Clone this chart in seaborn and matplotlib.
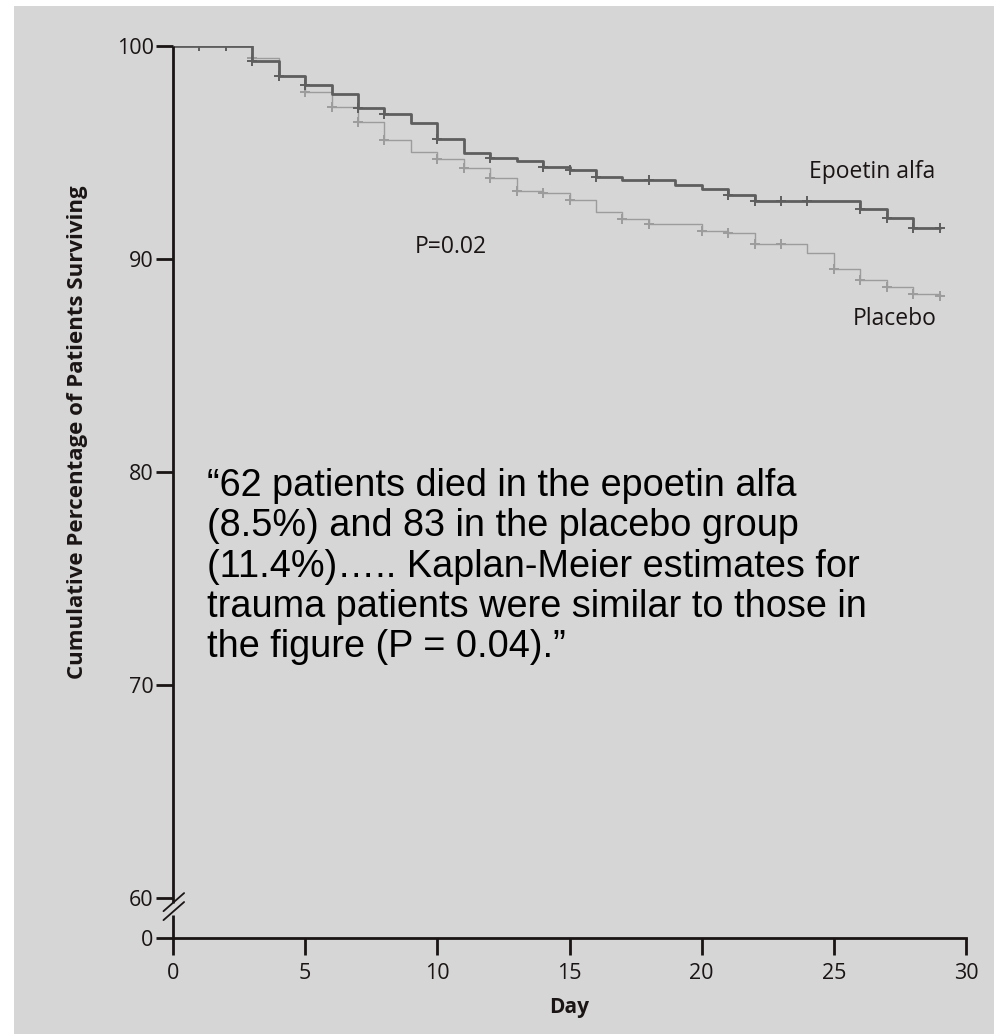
import numpy as np
import pandas as pd
import matplotlib
matplotlib.use("Agg")
import matplotlib.pyplot as plt
from matplotlib.patches import Rectangle
import seaborn as sns

# ---- data ----
days = list(range(0, 30))
epoetin = [100, 100, 100, 99.31, 98.58, 98.16, 97.74, 97.09, 96.79, 96.40,
           95.64, 94.97, 94.75, 94.59, 94.31, 94.18, 93.87, 93.71, 93.71, 93.49,
           93.28, 93.02, 92.74, 92.74, 92.74, 92.74, 92.34, 91.90, 91.45, 91.45]
placebo = [100, 100, 100, 99.45, 98.58, 97.85, 97.14, 96.43, 95.57, 95.03,
           94.67, 94.28, 93.79, 93.21, 93.08, 92.77, 92.19, 91.87, 91.63, 91.63,
           91.29, 91.20, 90.72, 90.72, 90.28, 89.51, 89.00, 88.68, 88.36, 88.25]
epoetin_censor_days = [1, 2, 3, 4, 5, 7, 8, 10, 12, 14, 15, 16, 18, 21, 22, 23, 24, 26, 27, 28, 29]
placebo_censor_days = [1, 2, 3, 4, 5, 6, 7, 8, 10, 11, 12, 13, 14, 15, 17, 18, 20, 21, 22, 23, 25, 26, 27, 28, 29]
x_ticks = [0, 5, 10, 15, 20, 25, 30]
y_ticks = [60, 70, 80, 90, 100]
y_break_bottom = 58.11  # position where the "0" of the broken axis sits

BG = "#d6d6d6"
EPO_C = "#5e5e5e"
PLA_C = "#9c9c9c"
INK = "#1a1414"

sns.set_theme(style="white")
plt.rcParams["font.family"] = ["Open Sans", "DejaVu Sans"]

fig = plt.figure(figsize=(9.94, 10.34), dpi=100)
fig.patch.set_facecolor("white")
fig.patches.append(Rectangle((14 / 994, 0), 1, 1 - 6 / 1034, transform=fig.transFigure,
                             facecolor=BG, edgecolor="none", zorder=-10))

ax = fig.add_axes([173 / 994, 1 - 938 / 1034, (966 - 173) / 994, (938 - 46) / 1034])
ax.set_facecolor("none")

df = pd.concat([
    pd.DataFrame({"Day": days, "Surv": epoetin, "Group": "Epoetin alfa"}),
    pd.DataFrame({"Day": days, "Surv": placebo, "Group": "Placebo"}),
])

sns.lineplot(data=df[df.Group == "Placebo"], x="Day", y="Surv", ax=ax,
             drawstyle="steps-post", color=PLA_C, lw=1.0, legend=False, zorder=2)
sns.lineplot(data=df[df.Group == "Epoetin alfa"], x="Day", y="Surv", ax=ax,
             drawstyle="steps-post", color=EPO_C, lw=2.0, legend=False, zorder=3)

epo_c = pd.DataFrame({"Day": epoetin_censor_days,
                      "Surv": [epoetin[d] for d in epoetin_censor_days]})
pla_c = pd.DataFrame({"Day": placebo_censor_days,
                      "Surv": [placebo[d] for d in placebo_censor_days]})
sns.scatterplot(data=pla_c, x="Day", y="Surv", ax=ax, marker="+", s=60,
                color=PLA_C, linewidth=1.4, zorder=2)
sns.scatterplot(data=epo_c, x="Day", y="Surv", ax=ax, marker="+", s=60,
                color=EPO_C, linewidth=1.4, zorder=3)

ax.set_xlim(0, 30)
ax.set_ylim(y_break_bottom, 100)
ax.set_xticks(x_ticks)
ax.set_xticklabels([str(t) for t in x_ticks])
ax.set_yticks([y_break_bottom] + y_ticks)
ax.set_yticklabels(["0"] + [str(t) for t in y_ticks])
ax.tick_params(axis="both", direction="out", length=12, width=2, color=INK,
               labelsize=15.5, labelcolor=INK, pad=2, left=True, bottom=True)
ax.tick_params(axis="x", pad=6)

for s in ["top", "right", "left"]:
    ax.spines[s].set_visible(False)
ax.spines["bottom"].set_color(INK)
ax.spines["bottom"].set_linewidth(2)

# left spine drawn in two pieces with a break
ax.plot([0, 0], [59.75, 100], color=INK, lw=2, clip_on=False, zorder=4,
        solid_capstyle="butt")
ax.plot([0, 0], [y_break_bottom, 59.2], color=INK, lw=2, clip_on=False, zorder=4,
        solid_capstyle="butt")
for off in (0.0, 0.42):
    ax.plot([-0.36, 0.42], [58.95 + off, 59.8 + off], color=INK, lw=1.3,
            clip_on=False, zorder=5)

ax.set_xlabel("Day", fontsize=15, fontweight="bold", color=INK, labelpad=9)
ax.set_ylabel("Cumulative Percentage of Patients Surviving", fontsize=16,
              fontweight="bold", color=INK)
ax.yaxis.set_label_coords(-0.107, 0.567)

ax.text(28.83, 94.06, "Epoetin alfa", ha="right", va="center", fontsize=16.5, color=INK)
ax.text(28.9, 86.89, "Placebo", ha="right", va="baseline", fontsize=16.5, color=INK)
ax.text(9.16, 90.57, "P=0.02", ha="left", va="center", fontsize=16.5, color=INK)

quote = ("\u201c62 patients died in the epoetin alfa\n"
         "(8.5%) and 83 in the placebo group\n"
         "(11.4%)\u2026.. Kaplan-Meier estimates for\n"
         "trauma patients were similar to those in\n"
         "the figure (P = 0.04).\u201d")
ax.text(1.29, 80.17, quote, ha="left", va="top", fontsize=27.3,
        family=["Liberation Sans", "DejaVu Sans"], color="black", linespacing=1.15)

fig.savefig("out.png", dpi=100, facecolor=fig.get_facecolor())
